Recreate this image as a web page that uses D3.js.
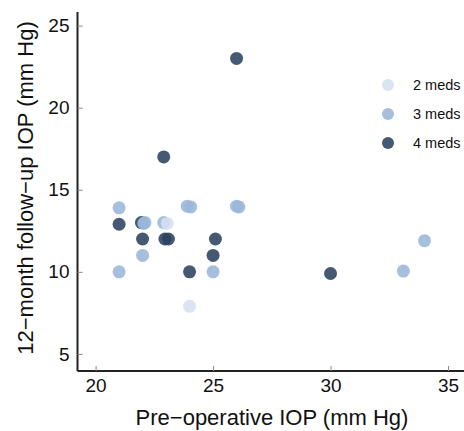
<!DOCTYPE html>
<html>
<head>
<meta charset="utf-8">
<script src="https://cdn.jsdelivr.net/npm/d3@7"></script>
<style>
  body { margin: 0; background: #fff; }
  svg { display: block; font-family: "Liberation Sans", Arial, sans-serif; }
</style>
</head>
<body>
<svg id="chart" width="464" height="431"></svg>
<script>
const groups = ["2 meds", "3 meds", "4 meds"];
const groupColors = ["#d6e1f0", "#9bb6da", "#2b425e"];
const xTicks = [20, 25, 30, 35];
const yTicks = [5, 10, 15, 20, 25];

const preOpIOP = [26, 22.9, 21, 23.9, 24.05, 26, 26.1, 21, 21.95, 22.05, 22.1, 22.9, 23.05, 22, 22.95, 23.1, 25.1, 22, 25, 21, 24, 25, 24, 30, 33.1, 34];
const followIOP = [23, 17, 13.9, 14, 13.95, 14, 13.95, 12.9, 13, 12.95, 13, 13, 12.95, 12, 12, 12, 12, 11, 11, 10, 10, 10, 7.9, 9.9, 10.05, 11.9];
const medGroup = ["4 meds", "4 meds", "3 meds", "3 meds", "3 meds", "3 meds", "3 meds", "4 meds", "4 meds", "3 meds", "3 meds", "3 meds", "2 meds", "4 meds", "4 meds", "4 meds", "4 meds", "3 meds", "4 meds", "3 meds", "4 meds", "3 meds", "2 meds", "4 meds", "3 meds", "3 meds"];

const svg = d3.select("#chart");
const mLeft = 77.5, mRight = 464, mTop = 12, mBottom = 371;

const x = d3.scaleLinear().domain([19.23, 35.68]).range([mLeft, mRight]);
const y = d3.scaleLinear().domain([3.96, 25.83]).range([mBottom, mTop]);
const color = d3.scaleOrdinal().domain(groups).range(groupColors);

const data = preOpIOP.map((v, i) => ({ x: v, y: followIOP[i], g: medGroup[i] }));

// points
svg.append("g")
  .selectAll("circle")
  .data(data)
  .join("circle")
  .attr("cx", d => x(d.x))
  .attr("cy", d => y(d.y))
  .attr("r", 6.5)
  .attr("fill", d => color(d.g))
  .attr("fill-opacity", 0.88);

// axes
const xAxis = d3.axisBottom(x).tickValues(xTicks).tickSize(-5).tickPadding(8).tickFormat(d3.format("d"));
const yAxis = d3.axisLeft(y).tickValues(yTicks).tickSize(-5).tickPadding(8).tickFormat(d3.format("d"));

const gx = svg.append("g").attr("transform", `translate(0,${mBottom})`).call(xAxis);
const gy = svg.append("g").attr("transform", `translate(${mLeft},0)`).call(yAxis);

[gx, gy].forEach(g => {
  g.select(".domain").attr("stroke", "#222").attr("stroke-width", 2);
  g.selectAll(".tick line").attr("stroke", "#888").attr("stroke-width", 1);
  g.selectAll(".tick text").attr("fill", "#111").style("font-size", "19px").style("font-family", "Liberation Sans, Arial, sans-serif");
});
gx.select(".domain").attr("d", `M${mLeft},0H${mRight}`);
gy.select(".domain").attr("d", `M0,${mTop}V${mBottom}`);

// axis titles
svg.append("text")
  .attr("x", 272)
  .attr("y", 425)
  .attr("text-anchor", "middle")
  .attr("fill", "#111")
  .style("font-size", "22px")
  .text("Pre\u2212operative IOP (mm Hg)");

svg.append("text")
  .attr("transform", `translate(33,188) rotate(-90)`)
  .attr("text-anchor", "middle")
  .attr("fill", "#111")
  .style("font-size", "22px")
  .text("12\u2212month follow\u2212up IOP (mm Hg)");

// legend
const legend = svg.append("g");
groups.forEach((gname, i) => {
  const ly = 85 + i * 29;
  legend.append("circle").attr("cx", 388).attr("cy", ly).attr("r", 6)
    .attr("fill", color(gname)).attr("fill-opacity", 0.88);
  legend.append("text").attr("x", 413).attr("y", ly + 5)
    .attr("fill", "#111").style("font-size", "14.5px").text(gname);
});
</script>
</body>
</html>
